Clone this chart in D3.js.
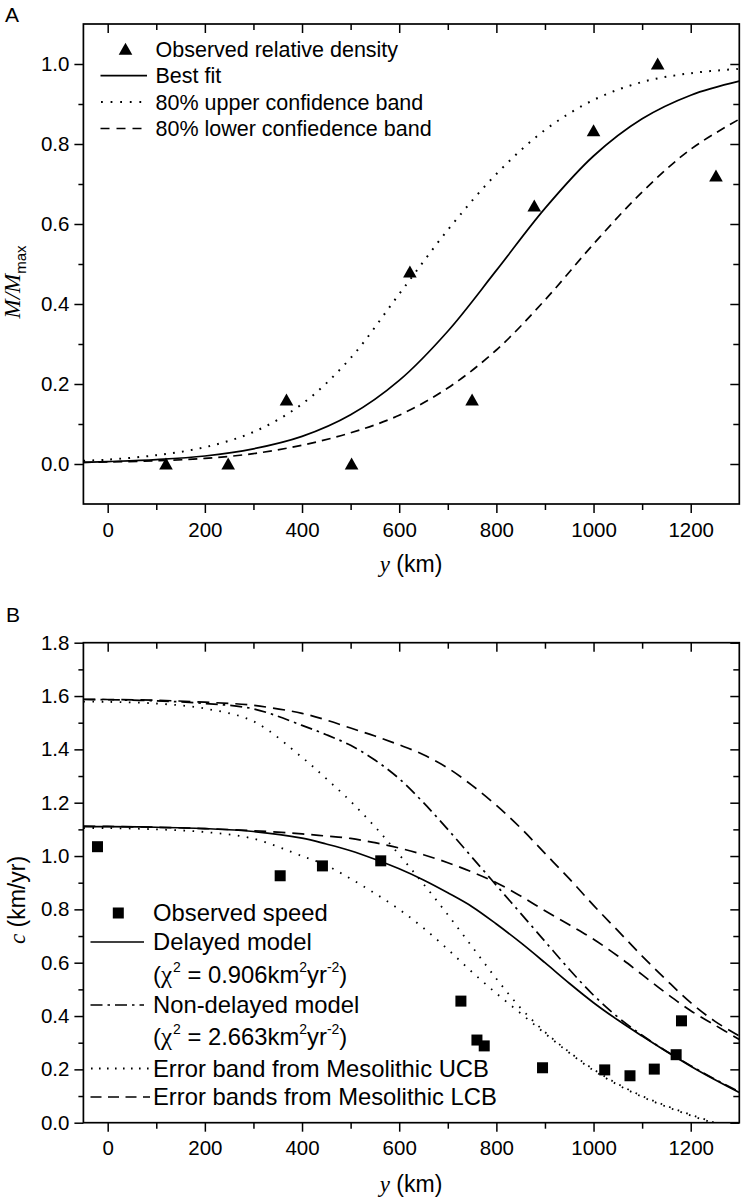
<!DOCTYPE html>
<html><head><meta charset="utf-8">
<script src="https://cdn.jsdelivr.net/npm/d3@7"></script>
<style>body{margin:0;background:#fff}svg{display:block}</style>
</head><body>
<svg id="c" width="745" height="1203"></svg>
<script>
// ---------- DATA ----------
const xTicksMajor = [0, 200, 400, 600, 800, 1000, 1200];
const xTicksMinor = [100, 300, 500, 700, 900, 1100];
const aYTicksMajor = [0, 0.2, 0.4, 0.6, 0.8, 1.0];
const aYTicksMinor = [0.1, 0.3, 0.5, 0.7, 0.9];
const bYTicksMajor = [0, 0.2, 0.4, 0.6, 0.8, 1.0, 1.2, 1.4, 1.6, 1.8];
const bYTicksMinor = [0.1, 0.3, 0.5, 0.7, 0.9, 1.1, 1.3, 1.5, 1.7];

// Panel A
const aObsX = [120, 248, 368, 502, 622, 750, 878, 1000, 1132, 1252];
const aObsY = [0, 0, 0.16, 0, 0.48, 0.16, 0.645, 0.833, 1.0, 0.72];
const aCurveX = [-50, 0, 100, 200, 300, 400, 500, 600, 700, 800, 900, 1000, 1100, 1200, 1300];
const aBestFit = [0.004, 0.006, 0.011, 0.020, 0.038, 0.069, 0.123, 0.209, 0.332, 0.484, 0.639, 0.770, 0.863, 0.922, 0.957];
const aUpper   = [0.008, 0.011, 0.022, 0.042, 0.080, 0.150, 0.265, 0.425, 0.585, 0.725, 0.835, 0.910, 0.955, 0.977, 0.988];
const aLower   = [0.004, 0.005, 0.008, 0.014, 0.026, 0.047, 0.078, 0.122, 0.190, 0.285, 0.410, 0.550, 0.680, 0.787, 0.862];
const aLegend = ["Observed relative density", "Best fit", "80% upper confidence band", "80% lower confiedence band"];

// Panel B
const bObsX = [-21, 355, 442, 562, 727, 760, 775, 895, 1023, 1075, 1125, 1170, 1181];
const bObsY = [1.035, 0.926, 0.963, 0.982, 0.456, 0.31, 0.288, 0.206, 0.198, 0.176, 0.201, 0.255, 0.382];
const bCurveX = [-50, 0, 100, 200, 300, 400, 450, 500, 550, 600, 650, 700, 750, 800, 850, 900, 950, 1000, 1050, 1100, 1150, 1200, 1250, 1300];
const bDelayed    = [1.11, 1.11, 1.108, 1.103, 1.092, 1.067, 1.045, 1.02, 0.988, 0.952, 0.91, 0.862, 0.81, 0.745, 0.675, 0.60, 0.523, 0.45, 0.385, 0.325, 0.267, 0.212, 0.161, 0.113];
const bNonDelayed = [1.587, 1.586, 1.582, 1.572, 1.552, 1.49, 1.455, 1.415, 1.36, 1.29, 1.20, 1.10, 0.995, 0.89, 0.785, 0.68, 0.575, 0.478, 0.396, 0.328, 0.268, 0.214, 0.163, 0.116];
const bUcbHigh    = [1.579, 1.578, 1.572, 1.553, 1.505, 1.37, 1.29, 1.205, 1.11, 1.005, 0.895, 0.78, 0.66, 0.54, 0.43, 0.34, 0.265, 0.20, 0.145, 0.10, 0.063, 0.03, 0.0, -0.03];
const bUcbLow     = [1.105, 1.105, 1.10, 1.09, 1.065, 1.00, 0.965, 0.915, 0.86, 0.80, 0.73, 0.65, 0.565, 0.485, 0.41, 0.335, 0.262, 0.196, 0.142, 0.097, 0.06, 0.027, -0.003, -0.033];
const bLcbHigh    = [1.588, 1.587, 1.584, 1.577, 1.565, 1.535, 1.51, 1.48, 1.45, 1.417, 1.38, 1.33, 1.265, 1.19, 1.105, 1.01, 0.915, 0.815, 0.72, 0.625, 0.535, 0.45, 0.38, 0.325];
const bLcbLow     = [1.112, 1.111, 1.108, 1.103, 1.095, 1.083, 1.075, 1.066, 1.05, 1.03, 1.005, 0.975, 0.94, 0.90, 0.85, 0.795, 0.742, 0.688, 0.625, 0.555, 0.485, 0.42, 0.366, 0.312];
const bLegend = ["Observed speed", "Delayed model", "Non-delayed model", "Error band from Mesolithic UCB", "Error bands from Mesolithic LCB"];

// ---------- DRAW ----------
const svg = d3.select("#c");
const SANS = "'Liberation Sans', Arial, sans-serif";
const SERIF = "'Liberation Serif', 'Times New Roman', serif";

const xA = d3.scaleLinear().domain([-50, 1300]).range([83.4, 739.3]);
const yA = d3.scaleLinear().domain([-0.1, 1.1]).range([504, 24]);
const xB = d3.scaleLinear().domain([-50, 1300]).range([83.4, 739.3]);
const yB = d3.scaleLinear().domain([0, 1.8]).range([1122.7, 642.7]);

const STY = {
  solid: {w: 1.7, dash: null},
  dotA: {w: 2, dash: "1.8,7.2"},
  dashA: {w: 1.7, dash: "9,6"},
  dotB: {w: 1.8, dash: "1.6,7.5"},
  dashB: {w: 1.7, dash: "12,7"},
  dashdot: {w: 1.7, dash: "12,5,2.5,5"}
};

function frame(x, y, yMajor, yMinor, id) {
  const [x0, x1] = x.range();
  const [yb, yt] = y.range();
  const g = svg.append("g");
  const styleAxis = s => {
    s.selectAll(".domain").remove();
    s.selectAll(".tick line").attr("stroke-width", 1.5);
    s.attr("font-family", SANS).attr("font-size", 20.5);
  };
  g.append("g").attr("transform", `translate(0,${yb})`)
    .call(d3.axisBottom(x).tickValues(xTicksMajor).tickSize(9).tickPadding(9).tickFormat(d3.format("d"))).call(styleAxis);
  g.append("g").attr("transform", `translate(0,${yb})`)
    .call(d3.axisBottom(x).tickValues(xTicksMinor).tickSize(6).tickFormat("")).call(styleAxis);
  g.append("g").attr("transform", `translate(0,${yt})`)
    .call(d3.axisTop(x).tickValues(xTicksMajor).tickSize(-9).tickFormat("")).call(styleAxis);
  g.append("g").attr("transform", `translate(0,${yt})`)
    .call(d3.axisTop(x).tickValues(xTicksMinor).tickSize(-6).tickFormat("")).call(styleAxis);
  g.append("g").attr("transform", `translate(${x0},0)`)
    .call(d3.axisLeft(y).tickValues(yMajor).tickSize(9).tickPadding(5).tickFormat(d3.format(".1f"))).call(styleAxis);
  g.append("g").attr("transform", `translate(${x0},0)`)
    .call(d3.axisLeft(y).tickValues(yMinor).tickSize(5).tickFormat("")).call(styleAxis);
  g.append("g").attr("transform", `translate(${x1},0)`)
    .call(d3.axisRight(y).tickValues(yMajor).tickSize(-9).tickFormat("")).call(styleAxis);
  g.append("g").attr("transform", `translate(${x1},0)`)
    .call(d3.axisRight(y).tickValues(yMinor).tickSize(-6).tickFormat("")).call(styleAxis);
  g.append("rect").attr("x", x0).attr("y", yt).attr("width", x1 - x0).attr("height", yb - yt)
    .attr("fill", "none").attr("stroke", "#000").attr("stroke-width", 1.7);
  svg.append("clipPath").attr("id", id).append("rect")
    .attr("x", x0).attr("y", yt).attr("width", x1 - x0).attr("height", yb - yt);
}

function curve(x, y, xs, ys, sty, clip) {
  const line = d3.line().x((d, i) => x(xs[i])).y(d => y(d)).curve(d3.curveCatmullRom.alpha(0.5));
  svg.append("path").attr("d", line(ys)).attr("fill", "none").attr("stroke", "#000")
    .attr("stroke-width", sty.w).attr("stroke-dasharray", sty.dash).attr("clip-path", `url(#${clip})`);
}

function sample(x1, x2, y, sty) {
  svg.append("line").attr("x1", x1).attr("x2", x2).attr("y1", y).attr("y2", y)
    .attr("stroke", "#000").attr("stroke-width", sty.w).attr("stroke-dasharray", sty.dash);
}

const triPath = "M0,-6.5L6.8,5.5L-6.8,5.5Z";

// ===== Panel A =====
frame(xA, yA, aYTicksMajor, aYTicksMinor, "clipA");
curve(xA, yA, aCurveX, aUpper, STY.dotA, "clipA");
curve(xA, yA, aCurveX, aLower, STY.dashA, "clipA");
curve(xA, yA, aCurveX, aBestFit, STY.solid, "clipA");
svg.append("g").selectAll("path").data(aObsX).join("path")
  .attr("d", triPath).attr("transform", (d, i) => `translate(${xA(d)},${yA(aObsY[i])})`).attr("fill", "#000");

// legend A
const aRows = [56.7, 83.2, 109.6, 136];
svg.append("path").attr("d", triPath).attr("transform", `translate(125.5,${aRows[0] - 7.5})`).attr("fill", "#000");
sample(100.5, 147, aRows[1] - 7.5, STY.solid);
sample(101, 147, aRows[2] - 7.5, {w: 2, dash: "1.8,7.8"});
sample(100.5, 147, aRows[3] - 7.5, {w: 1.7, dash: "9,7"});
aLegend.forEach((t, i) => {
  svg.append("text").attr("x", 155.5).attr("y", aRows[i]).attr("font-family", SANS).attr("font-size", 21.5).text(t);
});

// titles A
svg.append("text").attr("x", 5).attr("y", 22).attr("font-family", SANS).attr("font-size", 21).text("A");
const axA = svg.append("text").attr("x", 411).attr("y", 572).attr("text-anchor", "middle").attr("font-size", 23);
axA.append("tspan").attr("font-family", SERIF).attr("font-style", "italic").text("y");
axA.append("tspan").attr("font-family", SANS).text(" (km)");
const ayA = svg.append("text").attr("transform", "translate(20,282) rotate(-90)").attr("text-anchor", "middle").attr("font-size", 23);
ayA.append("tspan").attr("font-family", SERIF).attr("font-style", "italic").text("M/M");
ayA.append("tspan").attr("font-family", SANS).attr("font-size", 15).attr("dy", 6).text("max");

// ===== Panel B =====
frame(xB, yB, bYTicksMajor, bYTicksMinor, "clipB");
curve(xB, yB, bCurveX, bUcbHigh, STY.dotB, "clipB");
curve(xB, yB, bCurveX, bUcbLow, STY.dotB, "clipB");
curve(xB, yB, bCurveX, bLcbHigh, STY.dashB, "clipB");
curve(xB, yB, bCurveX, bLcbLow, STY.dashB, "clipB");
curve(xB, yB, bCurveX, bNonDelayed, STY.dashdot, "clipB");
curve(xB, yB, bCurveX, bDelayed, STY.solid, "clipB");
svg.append("g").selectAll("rect").data(bObsX).join("rect")
  .attr("x", d => xB(d) - 5.5).attr("y", (d, i) => yB(bObsY[i]) - 5.5)
  .attr("width", 11).attr("height", 11).attr("fill", "#000");

// legend B
const bFont = 23.8;
const bRows = [921, 950, 983, 1013, 1045, 1076.5, 1105];
svg.append("rect").attr("x", 118.3 - 5.5).attr("y", bRows[0] - 8 - 5.5).attr("width", 11).attr("height", 11).attr("fill", "#000");
sample(90.5, 144, bRows[1] - 8, STY.solid);
sample(90.5, 144, bRows[3] - 8, STY.dashdot);
sample(91, 150, bRows[5] - 8, {w: 1.8, dash: "1.6,6.4"});
sample(90.5, 150, bRows[6] - 8, {w: 1.7, dash: "11,6.5"});
const bTextRows = [bRows[0], bRows[1], bRows[3], bRows[5], bRows[6]];
bLegend.forEach((t, i) => {
  svg.append("text").attr("x", 153).attr("y", bTextRows[i]).attr("font-family", SANS).attr("font-size", bFont).text(t);
});
function chiLine(yb, val) {
  const t = svg.append("text").attr("x", 153).attr("y", yb).attr("font-family", SANS).attr("font-size", bFont);
  t.append("tspan").text("(");
  t.append("tspan").attr("font-family", SERIF).attr("font-size", 25).text("χ");
  t.append("tspan").attr("font-size", 14).attr("dy", -11).attr("dx", 1).text("2");
  t.append("tspan").attr("dy", 11).text(" = " + val + "km");
  t.append("tspan").attr("font-size", 14).attr("dy", -11).text("2");
  t.append("tspan").attr("dy", 11).text("yr");
  t.append("tspan").attr("font-size", 14).attr("dy", -11).text("-2");
  t.append("tspan").attr("dy", 11).text(")");
}
chiLine(bRows[2], "0.906");
chiLine(bRows[4], "2.663");

// titles B
svg.append("text").attr("x", 6).attr("y", 622).attr("font-family", SANS).attr("font-size", 21).text("B");
const axB = svg.append("text").attr("x", 411).attr("y", 1192).attr("text-anchor", "middle").attr("font-size", 23);
axB.append("tspan").attr("font-family", SERIF).attr("font-style", "italic").text("y");
axB.append("tspan").attr("font-family", SANS).text(" (km)");
const ayB = svg.append("text").attr("transform", "translate(25,900) rotate(-90)").attr("text-anchor", "middle").attr("font-size", 23);
ayB.append("tspan").attr("font-family", SERIF).attr("font-style", "italic").text("c");
ayB.append("tspan").attr("font-family", SANS).text(" (km/yr)");
</script>
</body></html>
